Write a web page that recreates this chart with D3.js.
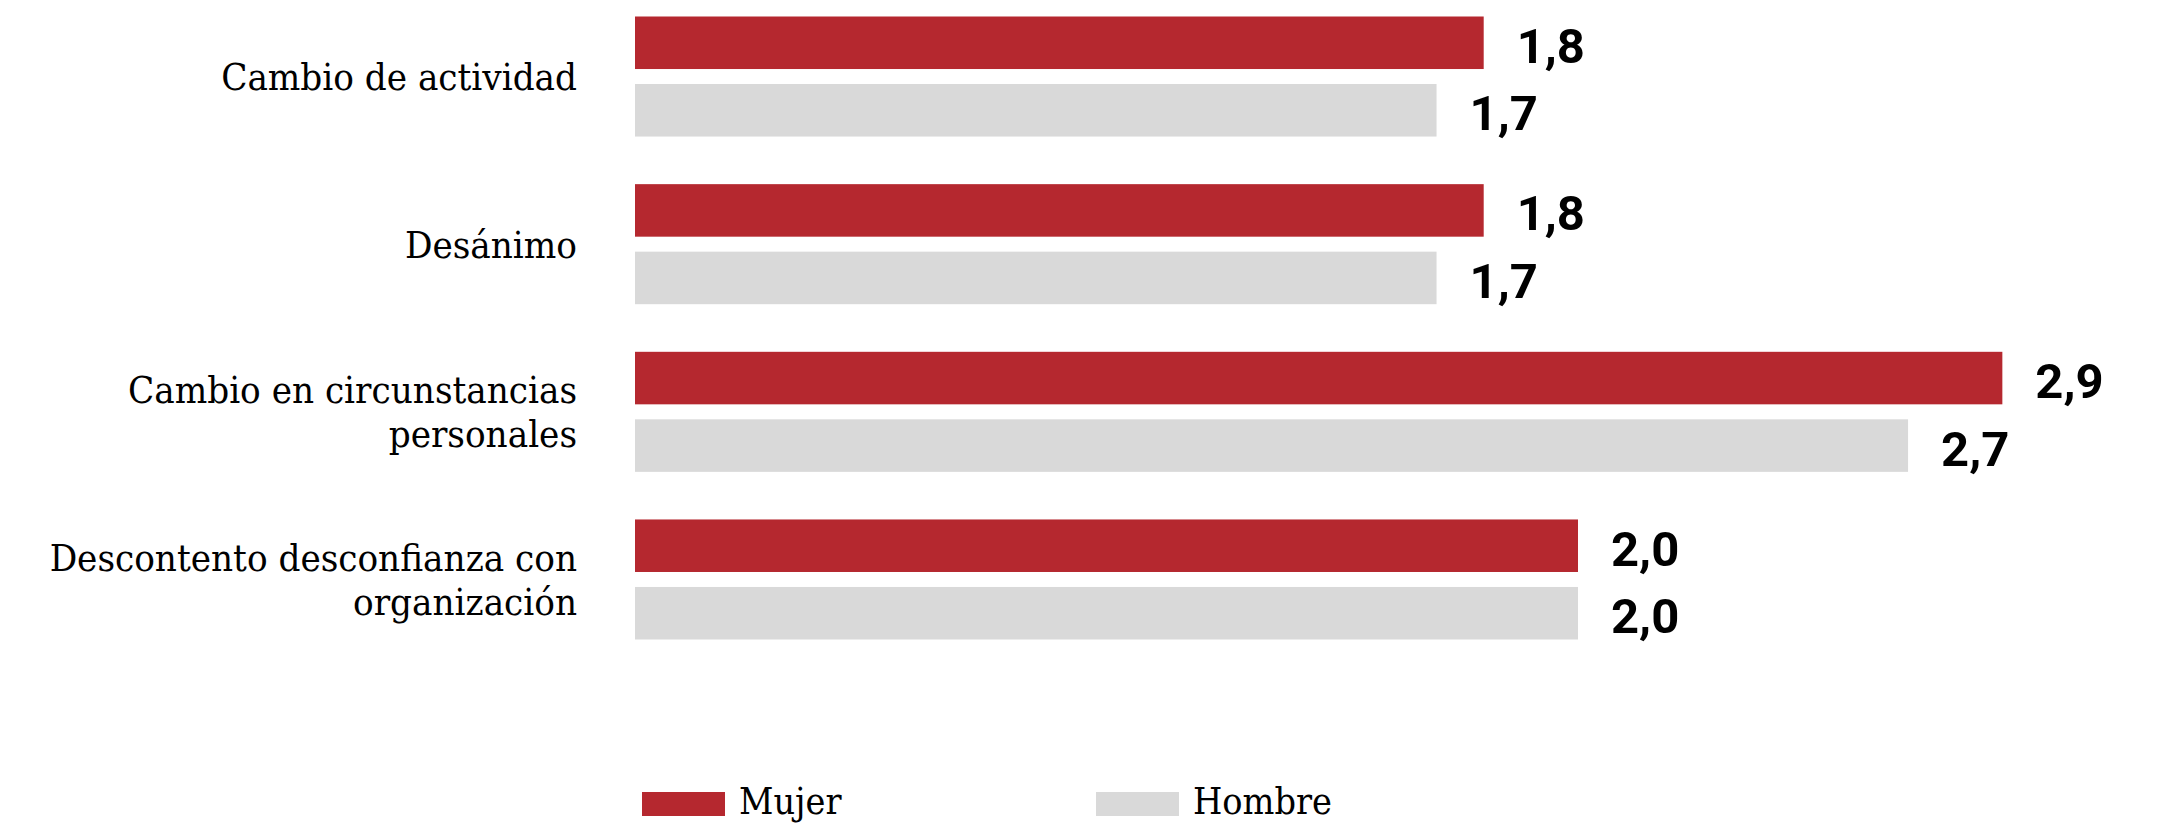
<!DOCTYPE html>
<html>
<head>
<meta charset="utf-8">
<script src="https://cdn.jsdelivr.net/npm/d3@7"></script>
<style>
  html, body { margin: 0; padding: 0; background: #ffffff; }
  svg { display: block; }
</style>
</head>
<body>
<svg id="chart" width="2161" height="824"></svg>
<script>
// ---- data ----
const categories = [
  "Cambio de actividad",
  "Desánimo",
  "Cambio en circunstancias personales",
  "Descontento desconfianza con organización"
];
const categoryLines = [
  ["Cambio de actividad"],
  ["Desánimo"],
  ["Cambio en circunstancias", "personales"],
  ["Descontento desconfianza con", "organización"]
];
const seriesNames = ["Mujer", "Hombre"];
const mujerValues = [1.8, 1.8, 2.9, 2.0];
const hombreValues = [1.7, 1.7, 2.7, 2.0];
const seriesColors = ["#b5282f", "#d9d9d9"];

// ---- layout ----
const svg = d3.select("#chart");
const serifFont = "'Roboto Slab', 'DejaVu Serif', serif";
const numFont = "Roboto, 'Noto Sans', sans-serif";

// pick a label size so the serif fallback matches the reference text width
function fitSize(sample, targetWidth, baseSize) {
  const t = svg.append("text")
    .attr("font-family", serifFont)
    .attr("font-size", baseSize)
    .style("font-stretch", "condensed")
    .text(sample);
  const w = t.node().getComputedTextLength();
  t.remove();
  return w > 0 ? Math.min(baseSize * 1.1, baseSize * targetWidth / w) : baseSize;
}
const labelSize = fitSize("Cambio de actividad", 356, 38);
const legendSize = fitSize("Hombre", 139, 36);

const x = d3.scaleLinear().domain([0, 3]).range([635, 635 + 3 * 471.5]);
const y = d3.scaleBand().domain(categories).range([16.5, 639.5]).paddingInner(0.284).paddingOuter(0);
const ys = d3.scaleBand().domain(seriesNames).range([0, y.bandwidth()]).paddingInner(0.222).paddingOuter(0);
const color = d3.scaleOrdinal().domain(seriesNames).range(seriesColors);

const rows = categories.map((c, i) => ({
  cat: c,
  lines: categoryLines[i],
  vals: [
    { s: "Mujer", v: mujerValues[i] },
    { s: "Hombre", v: hombreValues[i] }
  ]
}));

const fmt = v => d3.format(".1f")(v).replace(".", ",");

const groups = svg.selectAll("g.grp").data(rows).join("g")
  .attr("class", "grp")
  .attr("transform", d => `translate(0,${y(d.cat)})`);

groups.selectAll("rect").data(d => d.vals).join("rect")
  .attr("x", x(0))
  .attr("y", d => ys(d.s))
  .attr("width", d => x(d.v) - x(0))
  .attr("height", ys.bandwidth())
  .attr("fill", d => color(d.s));

groups.selectAll("text.val").data(d => d.vals).join("text")
  .attr("class", "val")
  .attr("x", d => x(d.v) + 33)
  .attr("y", d => ys(d.s) + ys.bandwidth() / 2 + 20)
  .attr("font-family", numFont)
  .attr("font-weight", 700)
  .attr("font-size", 49)
  .attr("fill", "#000")
  .text(d => fmt(d.v));

// category labels
const lineH = 44;
groups.each(function(d) {
  const g = d3.select(this);
  const n = d.lines.length;
  const cy = y.bandwidth() / 2;
  const t = g.append("text")
    .attr("class", "cat")
    .attr("text-anchor", "end")
    .attr("font-family", serifFont)
    .attr("font-size", labelSize)
    .style("font-stretch", "condensed")
    .attr("fill", "#000");
  d.lines.forEach((ln, k) => {
    t.append("tspan")
      .attr("x", 577)
      .attr("y", cy + (k - (n - 1) / 2) * lineH + 13.5)
      .text(ln);
  });
});

// legend
const legend = svg.append("g").attr("class", "legend");
const legX = [642, 1096];
seriesNames.forEach((s, i) => {
  legend.append("rect")
    .attr("x", legX[i]).attr("y", 792)
    .attr("width", 83).attr("height", 24)
    .attr("fill", color(s));
  legend.append("text")
    .attr("x", legX[i] + 97).attr("y", 814)
    .attr("font-family", serifFont)
    .attr("font-size", legendSize)
    .style("font-stretch", "condensed")
    .attr("fill", "#000")
    .text(s);
});
</script>
</body>
</html>
